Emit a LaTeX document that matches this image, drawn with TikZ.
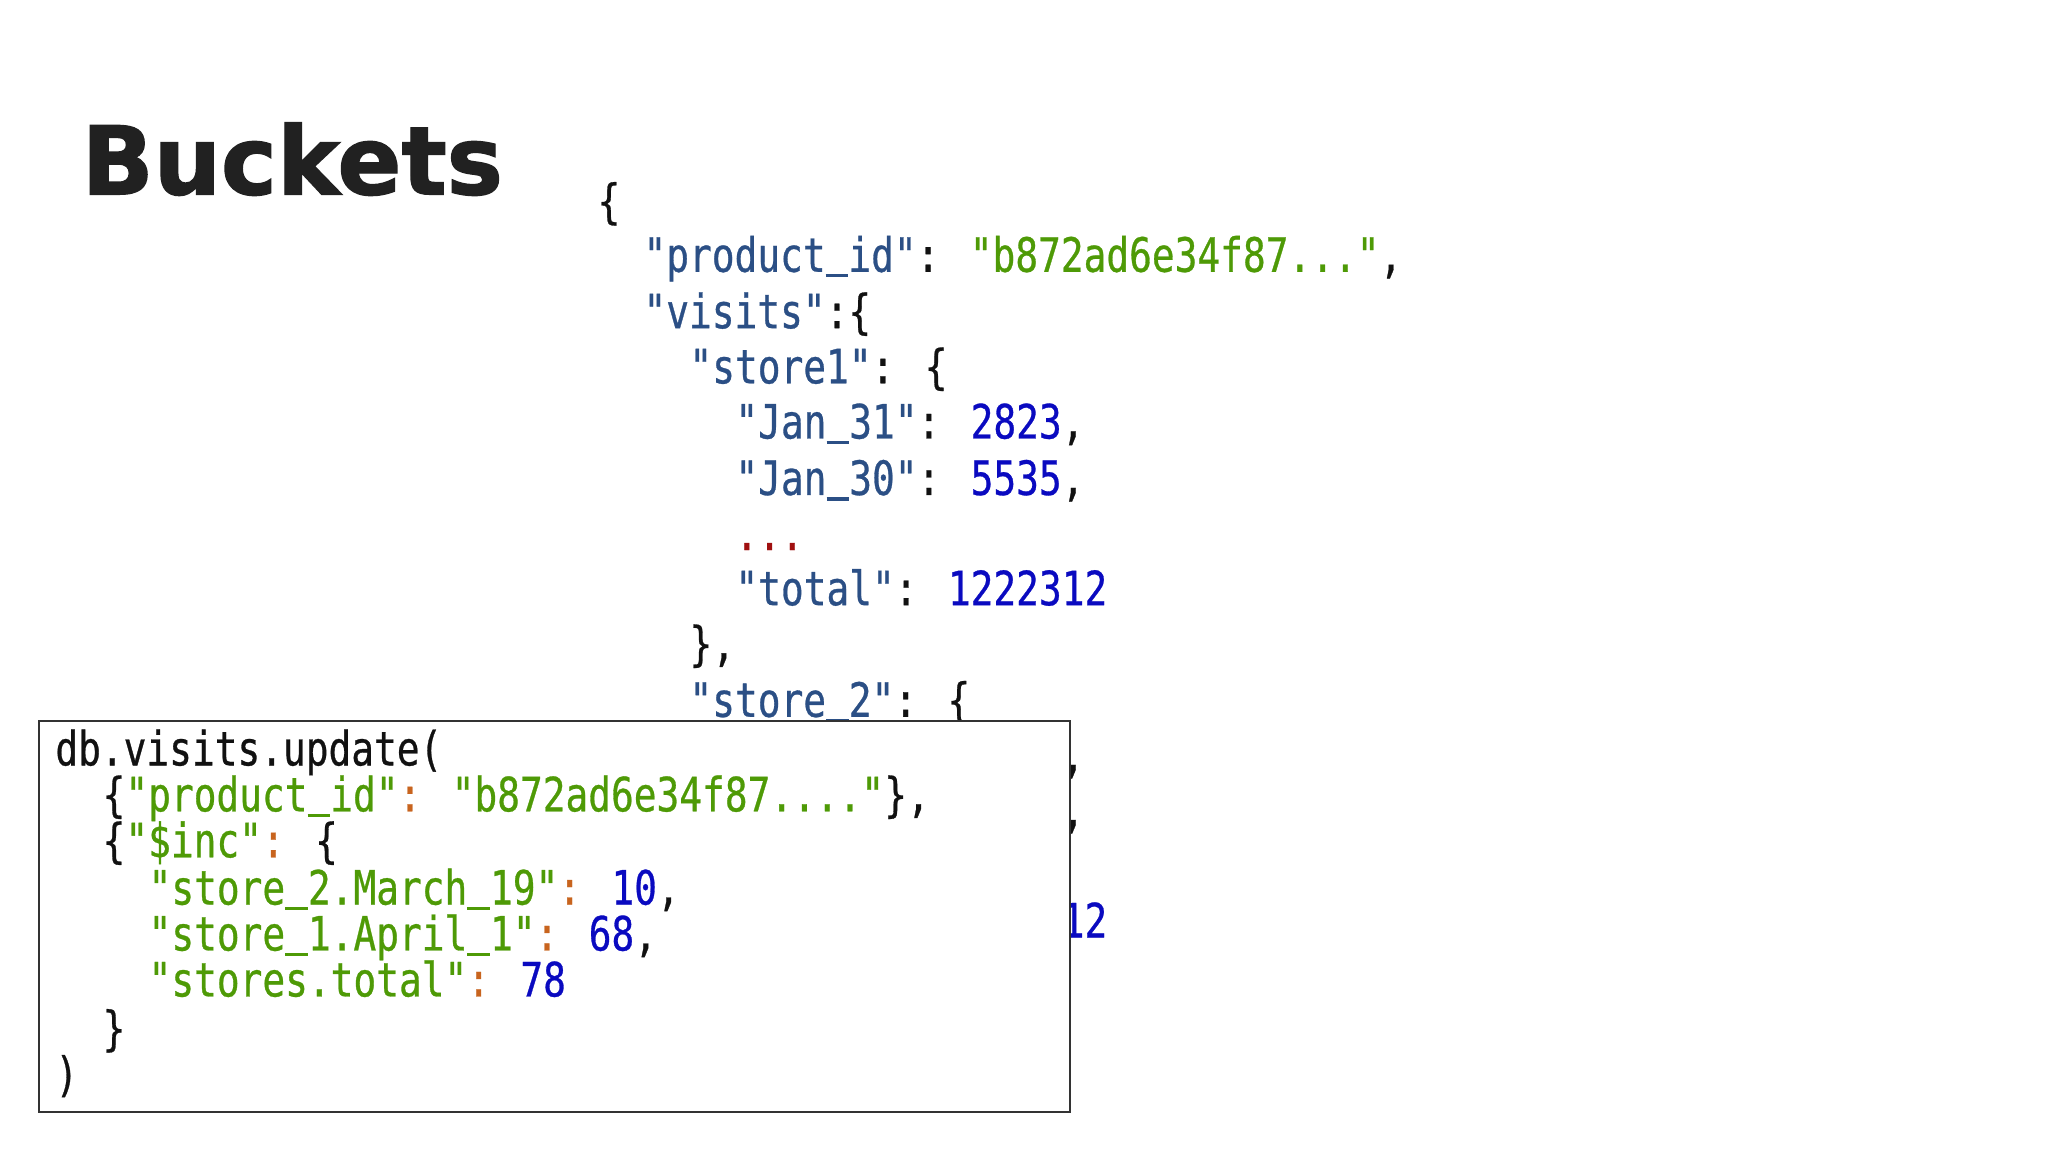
\documentclass[tikz,border=0pt]{standalone}
\usepackage{fontspec}
\newfontfamily\mono[FakeStretch=0.8,FakeBold=0.6]{DejaVu Sans Mono}
\newfontfamily\titlef[FakeBold=1.5]{DejaVu Sans Bold}
\newcommand{\us}{\setbox0\hbox{a}\rlap{\rule[-0.12em]{\wd0}{0.07em}}\hbox to\wd0{}}
\definecolor{keyc}{HTML}{2B4F85}
\definecolor{strc}{HTML}{4E9A06}
\definecolor{numc}{HTML}{0A0AC0}
\definecolor{dotc}{HTML}{A01010}
\definecolor{colc}{HTML}{C8641E}
\definecolor{txtc}{HTML}{111111}
\begin{document}
\begin{tikzpicture}[x=1pt,y=-1pt,
  ln/.style={anchor=base west,inner sep=0pt,font=\mono\fontsize{36}{36}\selectfont,text=txtc}]
\useasboundingbox (0,0) rectangle (1560,877.5);
\fill[white] (0,0) rectangle (1560,877.5);
\node[anchor=base west,inner sep=0pt,font=\titlef\fontsize{72}{72}\selectfont,text=black!87] (title) at (62,148) {Buckets};
% JSON document
\node[ln] (j1) at (455,166) {\{};
\node[ln] (j2) at (490,207) {\textcolor{keyc}{"product\us id"}: \textcolor{strc}{"b872ad6e34f87..."},};
\node[ln] (j3) at (490,250) {\textcolor{keyc}{"visits"}:\{};
\node[ln] (j4) at (525,292) {\textcolor{keyc}{"store1"}: \{};
\node[ln] (j5) at (560,334) {\textcolor{keyc}{"Jan\us 31"}: \textcolor{numc}{2823},};
\node[ln] (j6) at (560,377) {\textcolor{keyc}{"Jan\us 30"}: \textcolor{numc}{5535},};
\node[ln] (j7) at (560,419) {\textcolor{dotc}{...}};
\node[ln] (j8) at (560,461) {\textcolor{keyc}{"total"}: \textcolor{numc}{1222312}};
\node[ln] (j9) at (525,503) {\},};
\node[ln] (j10) at (525,546) {\textcolor{keyc}{"store\us 2"}: \{};
\node[ln] (j11) at (560,588) {\textcolor{keyc}{"Jan\us 31"}: \textcolor{numc}{2823},};
\node[ln] (j12) at (560,630) {\textcolor{keyc}{"Jan\us 30"}: \textcolor{numc}{5535},};
\node[ln] (j13) at (560,672) {\textcolor{dotc}{...}};
\node[ln] (j14) at (560,714) {\textcolor{keyc}{"total"}: \textcolor{numc}{1222312}};
\node[ln] (j15) at (525,757) {\}};
\node[ln] (j16) at (490,799) {\}};
\node[ln] (j17) at (455,841) {\}};
% update box
\draw[fill=white,draw=black!80,line width=1.6pt] (30,549) rectangle (815,847);
\node[ln] (u1) at (42,583) {db.visits.update(};
\node[ln] (u2) at (78,618) {\{\textcolor{strc}{"product\us id"}\textcolor{colc}{:} \textcolor{strc}{"b872ad6e34f87...."}\},};
\node[ln] (u3) at (78,653) {\{\textcolor{strc}{"\$inc"}\textcolor{colc}{:} \{};
\node[ln] (u4) at (113,689) {\textcolor{strc}{"store\us 2.March\us 19"}\textcolor{colc}{:} \textcolor{numc}{10},};
\node[ln] (u5) at (113,724) {\textcolor{strc}{"store\us 1.April\us 1"}\textcolor{colc}{:} \textcolor{numc}{68},};
\node[ln] (u6) at (113,759) {\textcolor{strc}{"stores.total"}\textcolor{colc}{:} \textcolor{numc}{78}};
\node[ln] (u7) at (78,796) {\}};
\node[ln] (u8) at (42,831) {)};
\end{tikzpicture}
\end{document}
